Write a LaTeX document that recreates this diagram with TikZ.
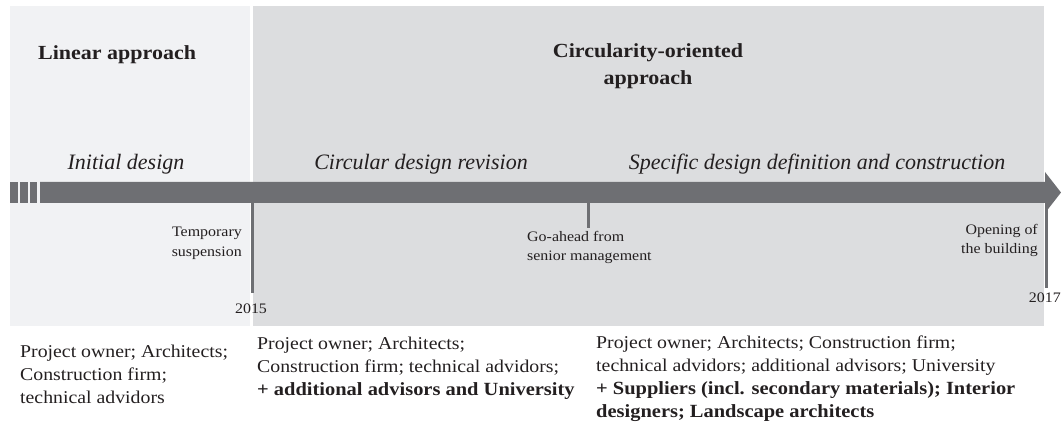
\documentclass[tikz,border=0pt]{standalone}
\usepackage{fontspec}
\setmainfont{Liberation Serif}
\newfontfamily\corps{Liberation Serif}[FakeStretch=1.1]
\definecolor{fondclair}{HTML}{F1F2F4}
\definecolor{fondfonce}{HTML}{DCDDDF}
\definecolor{gris}{HTML}{6E6F73}
\definecolor{encre}{HTML}{231F20}
\newcommand{\gras}[1]{{\fontsize{18.6}{23}\selectfont\bfseries #1}}
\begin{document}
\begin{tikzpicture}[x=1pt,y=-1pt]
% Styles
\tikzstyle{titre}=[text=encre,font=\corps\fontsize{20}{27}\selectfont\bfseries,inner sep=0pt]
\tikzstyle{phase}=[text=encre,font=\fontsize{22}{26}\selectfont\itshape,inner sep=0pt]
\tikzstyle{jalon}=[text=encre,font=\corps\fontsize{14.5}{19.5}\selectfont,inner sep=0pt]
\tikzstyle{acteurs}=[text=encre,font=\corps\fontsize{18}{23}\selectfont,inner sep=0pt,align=left,anchor=north west]
\tikzstyle{repere}=[draw=gris,line width=3pt]
% Dimensions
\def\BarreHaut{182}
\def\BarreBas{203}
\def\FondHaut{6}
\def\FondBas{326}
% Cadre
\useasboundingbox (0,0) rectangle (1061,430);
% Fonds
\fill[fondclair] (10,\FondHaut) rectangle (250,\FondBas);
\fill[fondfonce] (253,\FondHaut) rectangle (1044,\FondBas);
% Fleche du temps
\fill[gris] (10,\BarreHaut) rectangle (17.5,\BarreBas);
\fill[gris] (19.5,\BarreHaut) rectangle (27.5,\BarreBas);
\fill[gris] (30,\BarreHaut) rectangle (37,\BarreBas);
\fill[gris] (40,\BarreHaut) rectangle (1045,\BarreBas)
  (1045,172) -- (1061,192.5) -- (1045,213) -- cycle;
% Titres
\node[titre,anchor=base west] (Lin) at (38,60) {Linear approach};
\node[titre,align=center,anchor=north] (Circ) at (648,43) {Circularity-oriented\\approach};
% Phases
\node[phase] (Init) at (126,164) {Initial design};
\node[phase] (Rev) at (421,164) {Circular design revision};
\node[phase] (Spec) at (817,164) {Specific design definition and construction};
% Jalons
\coordinate (A15) at (252,\BarreBas);
\coordinate (B15) at (252,293);
\coordinate (AGo) at (588,\BarreBas);
\coordinate (BGo) at (588,228);
\coordinate (A17) at (1046,\BarreBas);
\coordinate (B17) at (1046,288);
\draw[repere] (A15)--(B15);
\draw[repere] (AGo)--(BGo);
\draw[repere] (A17)--(B17);
\node[jalon,align=right,anchor=north east] (Susp) at (242,227) {Temporary\\suspension};
\node[jalon,align=left,anchor=north west] (Go) at (527,231) {Go-ahead from\\senior management};
\node[jalon,align=right,anchor=north east] (Ouv) at (1038,224) {Opening of\\the building};
\node[jalon] (An15) at (251,309) {2015};
\node[jalon,anchor=east] (An17) at (1061,298) {2017};
% Acteurs
\node[acteurs] (ActA) at (20,345) {Project owner; Architects;\\Construction firm;\\technical advidors};
\node[acteurs] (ActB) at (257,337) {Project owner; Architects;\\Construction firm; technical advidors;\\\gras{+ additional advisors and University}};
\node[acteurs] (ActC) at (596,336) {Project owner; Architects; Construction firm;\\technical advidors; additional advisors; University\\\gras{+ Suppliers (incl. secondary materials); Interior}\\\gras{designers; Landscape architects}};
\end{tikzpicture}
\end{document}
